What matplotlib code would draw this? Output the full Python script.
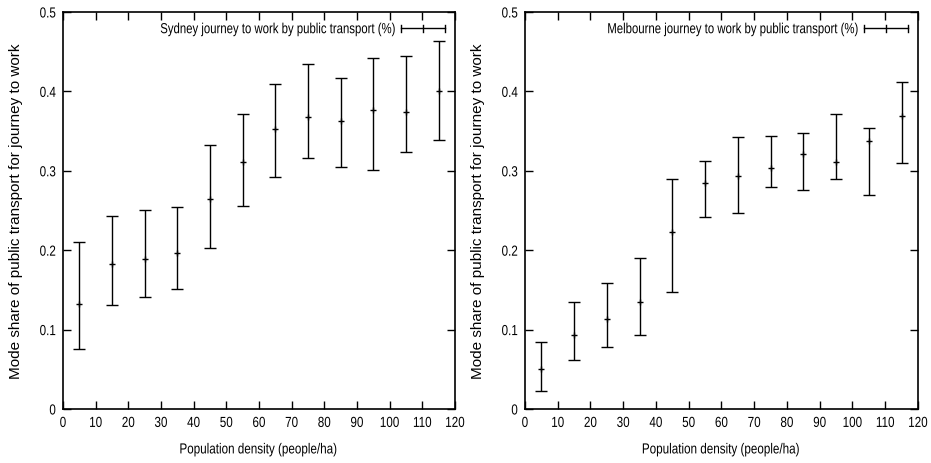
import matplotlib

matplotlib.use("Agg")
import matplotlib.pyplot as plt  # noqa: E402
from matplotlib.legend_handler import HandlerBase  # noqa: E402
from matplotlib.lines import Line2D  # noqa: E402
from matplotlib.patheffects import AbstractPathEffect  # noqa: E402
from matplotlib.transforms import Affine2D  # noqa: E402
import numpy as np  # noqa: E402

# density bins (people/ha), bin centres
density = [5, 15, 25, 35, 45, 55, 65, 75, 85, 95, 105, 115]

# mode share of public transport: mean, lower and upper bounds
syd_mean = [0.132, 0.183, 0.189, 0.196, 0.264, 0.311, 0.353, 0.368, 0.363, 0.376, 0.374, 0.400]
syd_low = [0.075, 0.131, 0.141, 0.151, 0.203, 0.256, 0.292, 0.316, 0.305, 0.301, 0.324, 0.339]
syd_high = [0.210, 0.243, 0.250, 0.254, 0.333, 0.372, 0.409, 0.434, 0.417, 0.442, 0.445, 0.463]

mel_mean = [0.050, 0.093, 0.113, 0.135, 0.223, 0.285, 0.293, 0.304, 0.321, 0.311, 0.338, 0.369]
mel_low = [0.023, 0.062, 0.078, 0.093, 0.147, 0.242, 0.247, 0.280, 0.276, 0.290, 0.270, 0.310]
mel_high = [0.084, 0.135, 0.159, 0.190, 0.290, 0.312, 0.342, 0.344, 0.348, 0.372, 0.354, 0.412]

labels = [
    "Sydney journey to work by public transport (%)",
    "Melbourne journey to work by public transport (%)",
]

FONT = ["Liberation Sans", "DejaVu Sans"]
NARROW_X = 0.8  # horizontal squeeze, mimics Helvetica-Narrow


class Squeeze(AbstractPathEffect):
    """Compress glyph outlines horizontally about the left/centre/right edge."""

    def __init__(self, sx=NARROW_X, anchor="center"):
        super().__init__()
        self.sx = sx
        self.anchor = anchor

    def draw_path(self, renderer, gc, tpath, affine, rgbFace=None):
        ext = tpath.get_extents()
        x0 = {"left": ext.x0, "right": ext.x1}.get(self.anchor, (ext.x0 + ext.x1) / 2)
        aff = Affine2D().translate(-x0, 0).scale(self.sx, 1).translate(x0, 0) + affine
        renderer.draw_path(gc, tpath, aff, rgbFace)


class HandlerHBar(HandlerBase):
    """gnuplot-style key sample: horizontal bar with end caps and a centre tick."""

    def create_artists(self, legend, orig, xd, yd, width, height, fontsize, trans):
        y = yd + height / 2
        cap = height * 0.35
        arts = [
            Line2D([xd, xd + width], [y, y], color="black", lw=1.0),
            Line2D([xd, xd], [y - cap, y + cap], color="black", lw=1.0),
            Line2D([xd + width, xd + width], [y - cap, y + cap], color="black", lw=1.0),
            Line2D([xd + width / 2] * 2, [y - cap, y + cap], color="black", lw=1.0),
        ]
        for a in arts:
            a.set_transform(trans)
        return arts


def draw_panel(ax, mean, low, high, label):
    mean = np.asarray(mean)
    err = [mean - np.asarray(low), np.asarray(high) - mean]
    ax.errorbar(
        density, mean, yerr=err, fmt="+", color="black", ms=5, mew=1.0,
        elinewidth=1.0, capsize=4.2, capthick=1.0, label=label,
    )
    ax.set_xlim(0, 120)
    ax.set_ylim(0, 0.5)
    ax.set_xticks(range(0, 121, 10))
    ax.set_yticks([0, 0.1, 0.2, 0.3, 0.4, 0.5])
    ax.set_yticklabels(["0", "0.1", "0.2", "0.3", "0.4", "0.5"])
    ax.tick_params(direction="in", length=5.5, width=1.0, top=True, right=True,
                   labelsize=10.5, pad=5)
    for t in ax.get_xticklabels():
        t.set_family(FONT)
        t.set_path_effects([Squeeze(anchor="center")])
    for t in ax.get_yticklabels():
        t.set_family(FONT)
        t.set_path_effects([Squeeze(anchor="right")])
    for s in ax.spines.values():
        s.set_linewidth(1.2)
    xl = ax.set_xlabel("Population density (people/ha)", family=FONT, fontsize=10.5,
                       labelpad=9)
    xl.set_path_effects([Squeeze(anchor="center")])
    ax.set_ylabel("Mode share of public transport for journey to work", family=FONT,
                  fontsize=11, labelpad=9)
    h, lab = ax.get_legend_handles_labels()
    leg = ax.legend(
        h, lab, loc="upper right", frameon=False, markerfirst=False,
        handler_map={type(h[0]): HandlerHBar()}, handlelength=3.0,
        prop={"family": FONT, "size": 10.5}, borderaxespad=0.3, handletextpad=0.2,
    )
    for t in leg.get_texts():
        t.set_path_effects([Squeeze(sx=0.78, anchor="right")])


fig = plt.figure(figsize=(9.31, 4.64), dpi=100)
ax1 = fig.add_axes([0.0677, 0.1164, 0.4210, 0.8556])
ax2 = fig.add_axes([0.5639, 0.1164, 0.4221, 0.8556])
draw_panel(ax1, syd_mean, syd_low, syd_high, labels[0])
draw_panel(ax2, mel_mean, mel_low, mel_high, labels[1])
fig.savefig("out.png", dpi=100)
plt.close(fig)
